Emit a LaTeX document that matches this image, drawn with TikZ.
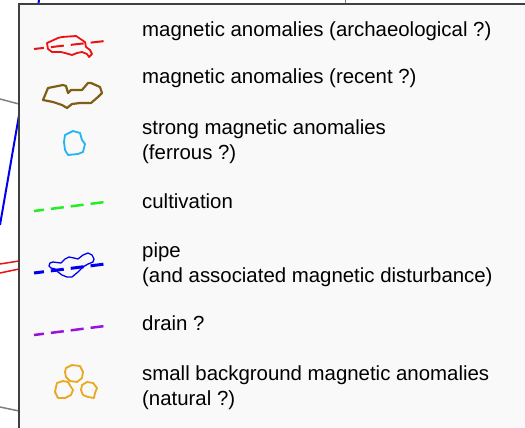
\documentclass[tikz,border=0pt]{standalone}
\usepackage{fontspec}
\setmainfont{Liberation Sans}
\usetikzlibrary{positioning}

\definecolor{archred}{HTML}{EE1111}
\definecolor{recentbrown}{HTML}{7F5E16}
\definecolor{ferrouscyan}{HTML}{22B4F0}
\definecolor{cultgreen}{HTML}{22EE22}
\definecolor{pipeblue}{HTML}{0000EE}
\definecolor{drainpurple}{HTML}{9911DD}
\definecolor{naturalorange}{HTML}{E8A820}
\definecolor{legendfill}{HTML}{F9F9F9}
\definecolor{legendframe}{HTML}{404040}

\begin{document}
\begin{tikzpicture}[
    x=1pt, y=-1pt,
    legtext/.style={anchor=base west, inner sep=0pt, align=left,
        font=\fontsize{20.4}{25}\selectfont},
    dashline/.style={line width=2.5pt, dash pattern=on 13pt off 7pt, dash phase=3pt},
    outline/.style={line width=1.8pt, line join=round},
    mapline/.style={line width=1.5pt}
]
\useasboundingbox (0,0) rectangle (525,428);
\clip (0,0) rectangle (525,428);
% map behind the legend
\draw[mapline, pipeblue, line width=2pt] (39,0) -- (0,225);
\draw[mapline, gray] (0,99) -- (19,104);
\draw[mapline, archred] (0,264) -- (19,261);
\draw[mapline, archred] (0,273) -- (19,269);
\draw[mapline, gray] (0,407) -- (19,411);
\draw[mapline, gray, line width=1pt] (345,0) -- (345,4);
% legend frame
\draw[legendframe, fill=legendfill, line width=1.5pt] (19,4) rectangle (545,445);

\node[legtext] (archtext) at (142,37) {magnetic anomalies (archaeological ?)};
\node[legtext] (recenttext) at (142,84) {magnetic anomalies (recent ?)};
\node[legtext] (ferroustext) at (142,159) {strong magnetic anomalies\\(ferrous ?)};
\node[legtext] (culttext) at (142,208) {cultivation};
\node[legtext] (pipetext) at (142,282) {pipe\\(and associated magnetic disturbance)};
\node[legtext] (draintext) at (142,330) {drain ?};
\node[legtext] (naturaltext) at (142,405) {small background magnetic anomalies\\(natural ?)};

\coordinate (arch1) at (34,49);
\coordinate (arch2) at (105,41);
\draw[dashline, archred, line width=2pt] (arch1) -- (arch2);
\draw[outline, archred] (47,43) -- (58,38) -- (62,37) -- (76,36) -- (85,42) -- (86,47)
    -- (90,50) -- (92,54) -- (89,57) -- (87,54) -- (82,52) -- (77,53) -- (72,55)
    -- (65,53) -- (61,52) -- (52,52) -- (48,49) -- cycle;

\draw[outline, recentbrown, line width=2.2pt] (43,100) -- (48,88) -- (63,85) -- (66,86) -- (68,93)
    -- (71,90) -- (82,90) -- (88,83) -- (91,83) -- (100,87) -- (102,93) -- (98,97)
    -- (91,103) -- (80,103) -- (72,104) -- (67,108) -- (62,105) -- (53,102) -- cycle;

\draw[outline, ferrouscyan] (65,135) -- (73,131) -- (80,133) -- (82,140) -- (85,144)
    -- (83,152) -- (78,154) -- (68,155) -- (65,150) -- (64,142) -- cycle;

\coordinate (cult1) at (34,211);
\coordinate (cult2) at (105,202);
\draw[dashline, cultgreen] (cult1) -- (cult2);

\coordinate (pipe1) at (34,273);
\coordinate (pipe2) at (105,264);
\draw[dashline, pipeblue, line width=3pt] (pipe1) -- (pipe2);
\draw[outline, pipeblue, line width=1.3pt] (50,263) -- (53,262) -- (61,263) -- (65,259)
    -- (69,257) -- (74,258) -- (78,259) -- (83,255) -- (88,253) -- (92,255) -- (94,259)
    -- (93,262) -- (88,264) -- (83,267) -- (78,272) -- (72,277) -- (67,277) -- (62,275)
    -- (58,272) -- (55,269) -- (51,268) -- (49,266) -- cycle;

\coordinate (drain1) at (34,335);
\coordinate (drain2) at (105,326);
\draw[dashline, drainpurple] (drain1) -- (drain2);

\draw[outline, naturalorange] (66,368) -- (72,365) -- (80,366) -- (83,372) -- (82,378)
    -- (77,382) -- (70,381) -- (66,377) -- (65,372) -- cycle;
\draw[outline, naturalorange] (57,383) -- (63,381) -- (68,382) -- (71,387) -- (73,390)
    -- (71,395) -- (65,398) -- (58,398) -- (55,392) -- (56,387) -- cycle;
\draw[outline, naturalorange] (82,385) -- (87,382) -- (93,383) -- (97,388) -- (95,393)
    -- (94,398) -- (88,397) -- (83,395) -- (81,390) -- cycle;
\end{tikzpicture}
\end{document}
